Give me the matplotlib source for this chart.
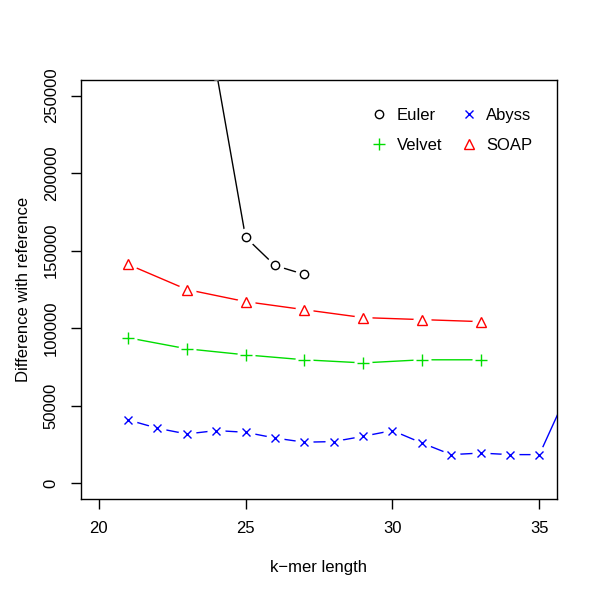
import matplotlib
matplotlib.use("Agg")
import matplotlib.pyplot as plt

plt.rcParams['font.family'] = ['Liberation Sans', 'DejaVu Sans']

# Data
euler_k = [24, 25, 26, 27]
euler_v = [266000, 158700, 140500, 134700]

velvet_k = [21, 23, 25, 27, 29, 31, 33]
velvet_v = [93900, 86800, 82900, 79700, 77700, 79700, 79700]

soap_k = [21, 23, 25, 27, 29, 31, 33]
soap_v = [141200, 125000, 117200, 112000, 106900, 105600, 104300]

abyss_k = [21, 22, 23, 24, 25, 26, 27, 28, 29, 30, 31, 32, 33, 34, 35, 36]
abyss_v = [41000, 35600, 31900, 34100, 33000, 29300, 26600, 27000, 30400,
           34100, 26100, 18600, 19600, 18600, 18600, 60200]

x_ticks = [20, 25, 30, 35]
y_ticks = [0, 50000, 100000, 150000, 200000, 250000]

fig = plt.figure(figsize=(6.0, 5.97), dpi=100)
ax = fig.add_axes([81/600, 1-499/597, (557-81)/600, (499-80)/597])

series = [
    ("Euler", euler_k, euler_v, "black", "o", 6, dict(markerfacecolor="none")),
    ("Velvet", velvet_k, velvet_v, "#00DD00", "+", 9, {}),
    ("Abyss", abyss_k, abyss_v, "#0000FF", "x", 6, {}),
    ("SOAP", soap_k, soap_v, "#FF0000", "^", 7.5, dict(markerfacecolor="none")),
]

handles = []
for name, k, v, col, mk, ms, extra in series:
    ax.plot(k, v, color=col, lw=1.0, zorder=2)
    ax.plot(k, v, ls="none", marker="o", ms=13, mfc="white", mec="none", zorder=3)
    h, = ax.plot(k, v, ls="none", marker=mk, ms=ms, color=col, mew=1.0, zorder=4, **extra)
    handles.append(h)

ax.set_xlim(19.4, 35.6)
ax.set_ylim(-10000, 260000)
ax.set_xticks(x_ticks)
ax.set_yticks(y_ticks)
ax.set_xticklabels([str(t) for t in x_ticks])
ax.set_yticklabels([str(t) for t in y_ticks], rotation=90, va="center")
ax.tick_params(direction="out", length=7, width=1, labelsize=12, pad=9, colors="black")
for s in ax.spines.values():
    s.set_linewidth(1.0)

ax.set_xlabel("k\u2212mer length", fontsize=12, labelpad=17)
ax.set_ylabel("Difference with reference", fontsize=12, labelpad=9)

leg = ax.legend(handles=[handles[0], handles[1], handles[2], handles[3]],
                labels=["Euler", "Velvet", "Abyss", "SOAP"],
                ncol=2, frameon=False, fontsize=12, loc="upper right",
                bbox_to_anchor=(0.98, 0.97), handlelength=1.2, handletextpad=0.45,
                columnspacing=1.0, labelspacing=0.9)

fig.savefig("out.png", dpi=100, facecolor="white")
